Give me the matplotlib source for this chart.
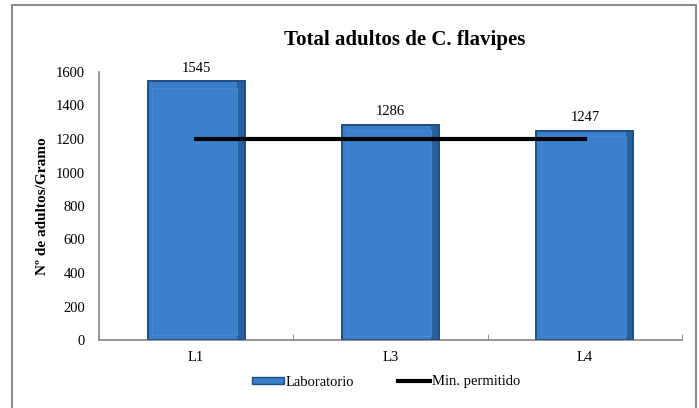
import matplotlib.pyplot as plt
from matplotlib.patches import Rectangle
from matplotlib.lines import Line2D
import numpy as np

categories = ['L1', 'L3', 'L4']
laboratorio = [1545, 1286, 1247]
min_permitido = [1200, 1200, 1200]
yticks = [0, 200, 400, 600, 800, 1000, 1200, 1400, 1600]

plt.rcParams['font.family'] = ['Liberation Serif', 'DejaVu Serif']

fig = plt.figure(figsize=(6.99, 4.08), dpi=100)

# outer chart frame
fig.patches.append(Rectangle((12 / 699, -0.05), (696 - 12) / 699, 1.05 - 5 / 408,
                             transform=fig.transFigure, fill=False,
                             edgecolor='#8c8c8c', linewidth=1.5))

ax = fig.add_axes([99 / 699, 68 / 408, 583 / 699, 268 / 408])
x = np.arange(len(categories))

bars = ax.bar(x, laboratorio, width=0.5, color='#3A7DC9', edgecolor='#1F4E80',
              linewidth=1.2, zorder=2)
# soft bevel: darker strip on right, lighter inner face
for b in bars:
    bx, bw, bh = b.get_x(), b.get_width(), b.get_height()
    ax.add_patch(Rectangle((bx + bw * 0.92, 0), bw * 0.08, bh,
                           facecolor='#2A5F9E', edgecolor='none', zorder=3))
    ax.add_patch(Rectangle((bx + bw * 0.05, bh * 0.02), bw * 0.87, bh * 0.955,
                           facecolor='#3B80CC', edgecolor='#4A8BD4', linewidth=0.6,
                           zorder=3))
    ax.add_patch(Rectangle((bx, 0), bw, bh, fill=False, edgecolor='#1F4E80',
                           linewidth=1.2, zorder=4))
for xi, v in zip(x, laboratorio):
    ax.text(xi, v + 40, str(v), ha='center', va='bottom', fontsize=10.5)

ax.plot(x, min_permitido, color='black', linewidth=3, zorder=5)

ax.set_xlim(-0.5, len(categories) - 0.5)
ax.set_ylim(0, 1600)
ax.set_yticks(yticks)
ax.set_xticks(x)
ax.set_xticklabels(categories)
ax.set_xticks(np.arange(-0.5, len(categories)), minor=True)
ax.tick_params(axis='x', which='major', length=0, labelsize=10.5, pad=8)
ax.tick_params(axis='x', which='minor', length=4, direction='in', color='#868686')
ax.tick_params(axis='y', length=0, labelsize=10.5, pad=10)
for s in ['top', 'right']:
    ax.spines[s].set_visible(False)
for s in ['left', 'bottom']:
    ax.spines[s].set_color('#868686')
    ax.spines[s].set_linewidth(1.2)

ax.set_ylabel('Nº de adultos/Gramo', fontsize=11, fontweight='bold', labelpad=5)
fig.text(405 / 699, 1 - 40 / 408, 'Total adultos de C. flavipes', ha='center',
         va='center', fontsize=15, fontweight='bold')

handles = [Rectangle((0, 0), 1, 1, facecolor='#3A7DC9', edgecolor='#1F4E80'),
           Line2D([0], [0], color='black', linewidth=3)]
fig.legend(handles, ['Laboratorio', 'Min. permitido'], loc='center',
           bbox_to_anchor=(386 / 699, 1 - 382 / 408), ncol=2, frameon=False,
           fontsize=10.5, handlelength=2.2, handleheight=0.4, handletextpad=0.1,
           columnspacing=3)

fig.savefig('out.png', dpi=100)
